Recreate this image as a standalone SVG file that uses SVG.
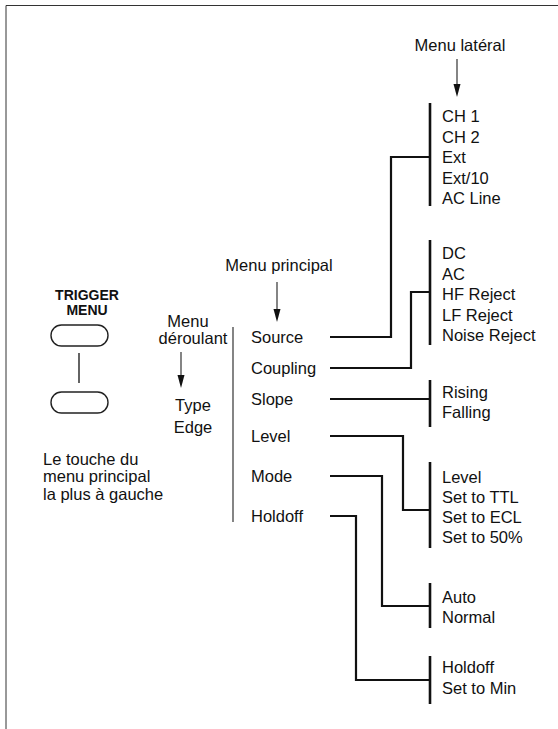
<svg xmlns="http://www.w3.org/2000/svg" width="558" height="729" viewBox="0 0 558 729">
<defs>
<style>
text{font-family:"Liberation Sans",Arial,sans-serif;font-size:16.5px;fill:#111}
.b{font-weight:bold;font-size:14px}
.c{text-anchor:middle}
.conn{fill:none;stroke:#111;stroke-width:2.2}
.bar{stroke:#111;stroke-width:2.6}
.thin{stroke:#333;stroke-width:1.2}
.btn{fill:#fff;stroke:#222;stroke-width:1.4}
.ah{fill:#111}
</style>
</defs>
<rect width="558" height="729" fill="#fff"/>
<path d="M6,729 V5.5 H558" fill="none" stroke="#333" stroke-width="1"/>

<g id="connectors">
<path class="conn" d="M330,337 H391 V157 H430"/>
<path class="conn" d="M330,368 H411 V292 H430"/>
<path class="conn" d="M330,399 H430"/>
<path class="conn" d="M330,436 H403 V510 H430"/>
<path class="conn" d="M330,476 H382 V606 H430"/>
<path class="conn" d="M330,516 H356 V680 H430"/>
<line class="thin" x1="457" y1="59" x2="457" y2="86"/>
<polygon class="ah" points="453.5,84 460.5,84 457,97"/>
<line class="thin" x1="277" y1="282" x2="277" y2="311"/>
<polygon class="ah" points="273.5,309 280.5,309 277,322"/>
<line class="thin" x1="181" y1="352" x2="181" y2="377"/>
<polygon class="ah" points="177.5,375 184.5,375 181,388"/>
<line x1="79" y1="353" x2="79" y2="383" stroke="#222" stroke-width="1.4"/>
</g>

<g id="menu-lateral-label"><text class="c" x="460" y="51">Menu latéral</text></g>
<g id="menu-principal-label"><text class="c" x="279" y="271">Menu principal</text></g>
<g id="menu-deroulant-label">
<text class="c" x="188" y="327">Menu</text>
<text class="c" x="193" y="344">déroulant</text>
</g>
<g id="type-edge">
<text class="c" x="193" y="411">Type</text>
<text class="c" x="193" y="433">Edge</text>
</g>

<g id="trigger-menu">
<text class="b c" x="87" y="300">TRIGGER</text>
<text class="b c" x="87" y="315">MENU</text>
<rect class="btn" x="51" y="325" width="57" height="21" rx="10.5"/>
<rect class="btn" x="51" y="392" width="57" height="21" rx="10.5"/>
<text x="43" y="465">Le touche du</text>
<text x="43" y="482">menu principal</text>
<text x="43" y="500">la plus à gauche</text>
</g>

<g id="main-menu">
<line class="thin" x1="233" y1="327" x2="233" y2="522"/>
<text x="251" y="343">Source</text>
<text x="251" y="374">Coupling</text>
<text x="251" y="405">Slope</text>
<text x="251" y="442">Level</text>
<text x="251" y="482">Mode</text>
<text x="251" y="522">Holdoff</text>
</g>

<g id="source-menu">
<line class="bar" x1="430" y1="103" x2="430" y2="206"/>
<text x="442" y="122">CH 1</text>
<text x="442" y="142.5">CH 2</text>
<text x="442" y="163">Ext</text>
<text x="442" y="183.5">Ext/10</text>
<text x="442" y="204">AC Line</text>
</g>

<g id="coupling-menu">
<line class="bar" x1="430" y1="240" x2="430" y2="345"/>
<text x="442" y="259">DC</text>
<text x="442" y="279.5">AC</text>
<text x="442" y="300">HF Reject</text>
<text x="442" y="320.5">LF Reject</text>
<text x="442" y="341">Noise Reject</text>
</g>

<g id="slope-menu">
<line class="bar" x1="430" y1="380" x2="430" y2="427"/>
<text x="442" y="398">Rising</text>
<text x="442" y="418">Falling</text>
</g>

<g id="level-menu">
<line class="bar" x1="430" y1="462" x2="430" y2="548"/>
<text x="442" y="483">Level</text>
<text x="442" y="503">Set to TTL</text>
<text x="442" y="523">Set to ECL</text>
<text x="442" y="543">Set to 50%</text>
</g>

<g id="mode-menu">
<line class="bar" x1="430" y1="583" x2="430" y2="628"/>
<text x="442" y="603">Auto</text>
<text x="442" y="623">Normal</text>
</g>

<g id="holdoff-menu">
<line class="bar" x1="430" y1="656" x2="430" y2="704"/>
<text x="442" y="673">Holdoff</text>
<text x="442" y="694">Set to Min</text>
</g>
</svg>
